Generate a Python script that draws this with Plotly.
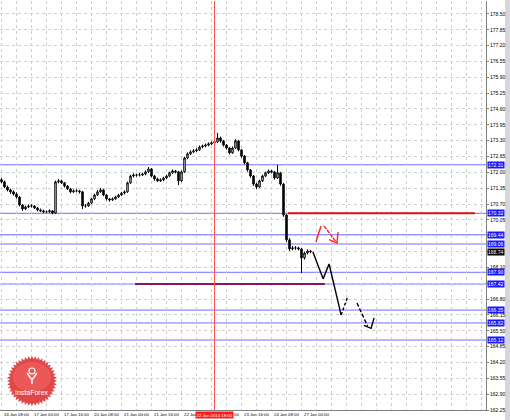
import math
import plotly.graph_objects as go

# ---------------- data ----------------
first_open = 171.70
close = [171.61, 171.40, 171.28, 171.20, 171.11, 170.99, 170.66, 170.50, 170.58, 170.62,
         170.62, 170.54, 170.46, 170.42, 170.38, 170.38, 170.42, 170.33, 171.61, 171.65,
         171.57, 171.44, 171.32, 171.20, 171.24, 171.24, 171.20, 170.62, 170.62, 170.74,
         170.91, 171.07, 171.20, 171.28, 171.07, 170.91, 170.87, 170.91, 170.99, 171.07,
         171.15, 171.20, 171.57, 171.85, 171.89, 171.89, 171.89, 171.93, 172.02, 172.14,
         171.85, 171.73, 171.65, 171.69, 171.77, 171.85, 171.98, 172.06, 172.02, 171.65,
         172.02, 172.59, 172.76, 172.84, 172.88, 172.92, 173.04, 173.08, 173.12, 173.17,
         173.21, 173.25, 173.41, 173.29, 173.12, 173.00, 172.80, 173.00, 173.29, 172.92,
         172.67, 172.39, 172.10, 171.85, 171.52, 171.40, 171.65, 171.85, 171.98, 172.06,
         172.02, 171.77, 171.98, 171.52, 170.25, 169.23, 168.86, 168.90, 168.90, 168.86,
         168.49, 168.69, 168.77, 168.74]
high = [171.76, 171.66, 171.46, 171.33, 171.26, 171.18, 171.03, 170.70, 170.63, 170.68,
        170.69, 170.66, 170.58, 170.51, 170.47, 170.44, 170.48, 170.45, 171.66, 171.72,
        171.70, 171.60, 171.48, 171.36, 171.30, 171.31, 171.28, 171.23, 170.70, 170.79,
        170.96, 171.12, 171.27, 171.36, 171.31, 171.10, 170.95, 170.97, 171.04, 171.12,
        171.20, 171.26, 171.62, 171.90, 171.96, 171.95, 171.97, 171.99, 172.08, 172.22,
        172.18, 171.89, 171.78, 171.75, 171.82, 171.90, 172.03, 172.12, 172.10, 172.05,
        172.07, 172.64, 172.82, 172.90, 172.95, 172.99, 173.10, 173.14, 173.18, 173.23,
        173.27, 173.31, 173.62, 173.47, 173.33, 173.16, 173.04, 173.06, 173.36, 173.33,
        172.96, 172.71, 172.43, 172.14, 171.89, 171.57, 171.70, 171.90, 172.03, 172.12,
        172.10, 172.05, 172.30, 172.02, 171.56, 170.30, 169.30, 168.98, 168.97, 168.95,
        168.90, 168.75, 168.84, 168.82]
low = [171.55, 171.35, 171.22, 171.12, 171.05, 170.92, 170.60, 170.42, 170.45, 170.54,
       170.56, 170.49, 170.40, 170.37, 170.33, 170.32, 170.34, 170.28, 170.30, 171.55,
       171.52, 171.38, 171.27, 171.14, 171.16, 171.18, 171.13, 170.50, 170.55, 170.58,
       170.70, 170.87, 171.03, 171.16, 171.02, 170.85, 170.80, 170.83, 170.88, 170.95,
       171.03, 171.10, 171.16, 171.53, 171.79, 171.82, 171.83, 171.85, 171.88, 171.97,
       171.80, 171.66, 171.60, 171.61, 171.64, 171.72, 171.81, 171.93, 171.96, 171.48,
       171.60, 171.98, 172.54, 172.71, 172.79, 172.84, 172.88, 172.99, 173.03, 173.07,
       173.12, 173.16, 173.20, 173.22, 173.06, 172.93, 172.74, 172.76, 172.96, 172.86,
       172.60, 172.33, 172.03, 171.78, 171.45, 171.32, 171.36, 171.60, 171.81, 171.93,
       171.96, 171.70, 171.73, 171.45, 170.18, 169.15, 168.78, 168.80, 168.82, 168.79,
       167.87, 168.42, 168.63, 168.68]

time_labels = ["16 Jan 08:00", "17 Jan 00:00", "17 Jan 16:00", "20 Jan 08:00",
               "21 Jan 00:00", "21 Jan 16:00", "22 Jan 08:00", "23 Jan 00:00",
               "23 Jan 16:00", "24 Jan 08:00", "27 Jan 00:00"]
price_ticks_start = 162.25
price_tick_step = 0.65
price_tick_count = 26

blue_levels = [172.31, 170.32, 169.44, 169.06, 167.90, 167.42, 166.35, 165.82, 165.12]
current_price = 168.74

red_line_x = [95.5, 157.8]
red_line_y = [170.32, 170.32]
purple_line_x = [44.5, 107.8]
purple_line_y = [167.42, 167.42]

black_solid_x = [103.8, 107.2, 109.2, 113.2]
black_solid_y = [168.73, 167.63, 168.24, 166.15]
black_dash1_x = [113.2, 115.5]
black_dash1_y = [166.15, 166.93]
black_dash2_x = [118.5, 122.0]
black_dash2_y = [166.64, 165.70]
black_hook_x = [120.8, 123.2, 124.2]
black_hook_y = [165.72, 165.60, 166.03]

red_up_x = [104.8, 106.5]
red_up_y = [169.14, 169.80]
red_dash_x = [107.5, 111.8]
red_dash_y = [169.80, 169.10]
red_head_x = [109.2, 111.8, 112.2]
red_head_y = [169.24, 169.10, 169.55]

cursor_x = 71
cursor_label = "22 Jan 2014 18:00"

# ---------------- figure ----------------
opens = [first_open] + close[:-1]
idx = list(range(len(close)))

W, H = 510, 420
ML, MR, MT, MB = 0, 24, 1, 10
PW, PH = W - ML - MR, H - MT - MB

fig = go.Figure()
fig.add_trace(go.Candlestick(
    x=idx, open=opens, high=high, low=low, close=close,
    increasing=dict(line=dict(color="#000000", width=1), fillcolor="#ffffff"),
    decreasing=dict(line=dict(color="#000000", width=1), fillcolor="#000000"),
    whiskerwidth=0, hoverinfo="skip", showlegend=False))

def line(xs, ys, color, width, dash="solid"):
    fig.add_trace(go.Scatter(x=xs, y=ys, mode="lines",
                             line=dict(color=color, width=width, dash=dash),
                             hoverinfo="skip", showlegend=False))

shapes = []
for lv in blue_levels:
    shapes.append(dict(type="line", xref="paper", x0=0, x1=1, yref="y", y0=lv, y1=lv,
                       line=dict(color="#6f6fff", width=1), layer="below"))
shapes.append(dict(type="line", xref="x", x0=cursor_x, x1=cursor_x, yref="paper",
                   y0=0, y1=1, line=dict(color="#ff5050", width=1)))

line(red_line_x, red_line_y, "#e01010", 2)
line(purple_line_x, purple_line_y, "#86185a", 2)
line(black_solid_x, black_solid_y, "#000000", 1.4)
line(black_dash1_x, black_dash1_y, "#000000", 1.4, "3px,2px")
line(black_dash2_x, black_dash2_y, "#000000", 1.4, "4px,2px")
line(black_hook_x, black_hook_y, "#000000", 1.4)
line(red_up_x, red_up_y, "#ff2020", 1.4)
line(red_dash_x, red_dash_y, "#ff2020", 1.4, "4px,1px")
line(red_head_x, red_head_y, "#ff2020", 1.4)

# right grey stripe
shapes.append(dict(type="rect", xref="paper", yref="paper", layer="below",
                   x0=(505 - ML) / PW, x1=(511 - ML) / PW, y0=-0.05, y1=1.01,
                   fillcolor="#d6d6dc", line=dict(width=0)))

# InstaForex badge
def px2paper(px, py):
    return (px - ML) / PW, 1 - (py - MT) / PH

cx, cy, r_out, r_in, n = 32, 381, 25, 22, 44
pts = []
for k in range(2 * n):
    a = math.pi * k / n
    r = r_out if k % 2 == 0 else r_in
    pts.append(px2paper(cx + r * math.cos(a), cy + r * math.sin(a)))
path = "M " + " L ".join(f"{x:.5f},{y:.5f}" for x, y in pts) + " Z"
shapes.append(dict(type="path", xref="paper", yref="paper", path=path,
                   fillcolor="#e04848", line=dict(width=0)))
pts2 = []
for k in range(48):
    a = 2 * math.pi * k / 48
    pts2.append(px2paper(cx + 19 * math.cos(a), cy - 4 + 15 * math.sin(a)))
path2 = "M " + " L ".join(f"{x:.5f},{y:.5f}" for x, y in pts2) + " Z"
shapes.append(dict(type="path", xref="paper", yref="paper", path=path2,
                   fillcolor="rgba(255,120,120,0.35)", line=dict(width=0)))
# icon
ix0, iy0 = px2paper(cx - 3, 368)
ix1, iy1 = px2paper(cx + 3, 374)
shapes.append(dict(type="circle", xref="paper", yref="paper", x0=ix0, x1=ix1, y0=iy1, y1=iy0,
                   line=dict(color="white", width=1.2)))
a0 = px2paper(cx - 5, 373); a1 = px2paper(cx, 380); a2 = px2paper(cx + 5, 373)
b0 = px2paper(cx, 380); b1 = px2paper(cx, 384)
shapes.append(dict(type="path", xref="paper", yref="paper",
                   path=f"M {a0[0]},{a0[1]} L {a1[0]},{a1[1]} L {a2[0]},{a2[1]} M {b0[0]},{b0[1]} L {b1[0]},{b1[1]}",
                   line=dict(color="white", width=1.4)))

annotations = []
tx, ty = px2paper(cx, 392)
annotations.append(dict(xref="paper", yref="paper", x=tx, y=ty, xanchor="center",
                        yanchor="middle", text="InstaForex",
                        showarrow=False, font=dict(family="Liberation Sans", size=7, color="white")))

def box(level, bg):
    annotations.append(dict(xref="paper", yref="y", x=1, y=level, xanchor="left",
                            yanchor="middle", xshift=1, text=f"{level:.2f}", showarrow=False,
                            bgcolor=bg, borderpad=0,
                            font=dict(family="Liberation Sans", size=5, color="white")))

for lv in blue_levels:
    box(lv, "#1818ff")
box(current_price, "#000000")

# time labels along the bottom axis
for j, lab in enumerate(time_labels):
    annotations.append(dict(xref="x", yref="paper", x=j * 10, y=0, xanchor="left",
                            yanchor="top", xshift=1, yshift=-1, text=lab, showarrow=False,
                            borderpad=0,
                            font=dict(family="Liberation Sans", size=4.3, color="#000000")))

annotations.append(dict(xref="x", yref="paper", x=cursor_x, y=0, yanchor="top", yshift=-1,
                        xanchor="center", text=cursor_label, showarrow=False,
                        bgcolor="#ff1a1a", borderpad=0.5,
                        font=dict(family="Liberation Sans", size=4.3, color="white")))

boxed = blue_levels + [current_price]
yt = [round(price_ticks_start + price_tick_step * k, 2) for k in range(price_tick_count)]
ytext = []
for v in yt:
    covered = any(abs(v - b) < 0.17 for b in boxed)
    ytext.append("" if covered else f"{v:.2f}")
xt = list(range(0, 162, 5))

fig.update_layout(
    width=W, height=H, margin=dict(l=ML, r=MR, t=MT, b=MB, autoexpand=False),
    paper_bgcolor="white", plot_bgcolor="white",
    shapes=shapes, annotations=annotations,
    font=dict(family="Liberation Sans", size=5, color="#000000"),
    xaxis=dict(range=[-0.5, 161.5], tickvals=xt, showticklabels=False, showgrid=True,
               gridcolor="#cfcfcf", griddash="dot", gridwidth=1, automargin=False,
               ticks="", showline=True, linecolor="#808080", linewidth=1,
               rangeslider=dict(visible=False), zeroline=False, fixedrange=True),
    yaxis=dict(range=[162.25, 179.03], side="right", tickvals=yt,
               ticktext=ytext, showgrid=True, automargin=False,
               gridcolor="#cfcfcf", griddash="dot", gridwidth=1,
               ticks="outside", ticklen=2, tickcolor="#808080",
               tickfont=dict(size=5, color="#000000"), showline=True, linecolor="#808080",
               linewidth=1, zeroline=False, fixedrange=True),
)

fig.write_html("out.html", config={"displayModeBar": False},
               post_script="document.body.style.margin='0';document.body.style.overflow='hidden';")
